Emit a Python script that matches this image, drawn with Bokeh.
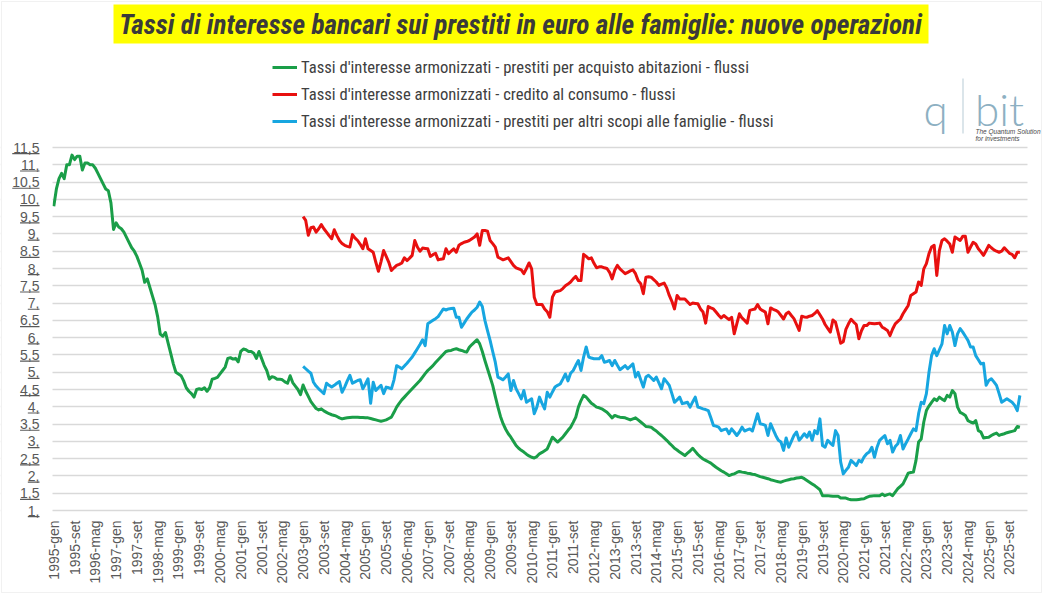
import math

from bokeh.embed import file_html
from bokeh.models import BoxAnnotation, FixedTicker, Label, Legend, LegendItem, Range1d
from bokeh.plotting import figure
from bokeh.resources import INLINE

# --- data -----------------------------------------------------------------
MONTHS = ["gen", "feb", "mar", "apr", "mag", "giu", "lug", "ago", "set", "ott", "nov", "dic"]
START_YEAR = 1995
LABEL_STEP = 8          # one category label every 8 months
CONS_OFFSET = 96        # consumer credit / other purposes series start in 2003-gen

# mortgage loans (house purchase), monthly from 1995-gen
abitazioni = [
    9.8, 10.3, 10.6, 10.75, 10.6, 11.0, 11.0, 11.28, 11.15, 11.25,
    11.25, 10.85, 11.05, 11.05, 11.0, 11.0, 10.9, 10.75, 10.6, 10.45,
    10.3, 10.25, 9.9, 9.13, 9.32, 9.2, 9.15, 9.05, 8.9, 8.75,
    8.6, 8.5, 8.35, 8.15, 7.95, 7.6, 7.7, 7.45, 7.2, 6.95,
    6.6, 6.1, 6.04, 6.15, 5.85, 5.55, 5.25, 5.0, 4.95, 4.9,
    4.75, 4.55, 4.45, 4.38, 4.28, 4.5, 4.52, 4.5, 4.55, 4.45,
    4.55, 4.8, 4.82, 4.85, 4.95, 5.05, 5.15, 5.4, 5.42, 5.38,
    5.4, 5.3, 5.6, 5.67, 5.65, 5.6, 5.6, 5.55, 5.4, 5.6,
    5.4, 5.2, 5.05, 4.8, 4.87, 4.85, 4.8, 4.8, 4.78, 4.72,
    4.68, 4.9, 4.7, 4.6, 4.5, 4.35, 4.63, 4.45, 4.3, 4.15,
    4.05, 3.95, 3.91, 3.94, 3.88, 3.84, 3.80, 3.77, 3.75, 3.72,
    3.68, 3.65, 3.67, 3.68, 3.69, 3.70, 3.70, 3.70, 3.69, 3.69,
    3.68, 3.68, 3.66, 3.64, 3.62, 3.60, 3.58, 3.60, 3.62, 3.66,
    3.70, 3.84, 3.99, 4.10, 4.20, 4.28, 4.36, 4.44, 4.52, 4.60,
    4.68, 4.76, 4.86, 4.96, 5.05, 5.12, 5.19, 5.28, 5.36, 5.44,
    5.52, 5.60, 5.62, 5.63, 5.66, 5.68, 5.65, 5.63, 5.60, 5.58,
    5.72, 5.80, 5.87, 5.94, 5.82, 5.60, 5.34, 5.10, 4.86, 4.62,
    4.30, 4.00, 3.72, 3.51, 3.35, 3.22, 3.12, 3.00, 2.88, 2.80,
    2.74, 2.69, 2.63, 2.58, 2.54, 2.52, 2.56, 2.64, 2.68, 2.73,
    2.78, 2.95, 3.12, 3.05, 2.98, 3.05, 3.12, 3.22, 3.32, 3.41,
    3.55, 3.70, 3.99, 4.18, 4.33, 4.28, 4.19, 4.10, 4.05, 3.99,
    3.97, 3.94, 3.89, 3.84, 3.76, 3.68, 3.75, 3.72, 3.70, 3.69,
    3.68, 3.65, 3.62, 3.65, 3.68, 3.62, 3.56, 3.50, 3.43, 3.42,
    3.41, 3.35, 3.30, 3.23, 3.17, 3.10, 3.03, 2.95, 2.88, 2.80,
    2.75, 2.69, 2.64, 2.59, 2.66, 2.72, 2.80, 2.71, 2.62, 2.55,
    2.49, 2.45, 2.41, 2.37, 2.31, 2.25, 2.20, 2.15, 2.11, 2.06,
    2.01, 2.04, 2.06, 2.10, 2.13, 2.11, 2.10, 2.08, 2.07, 2.05,
    2.04, 2.01, 1.98, 1.96, 1.94, 1.92, 1.89, 1.87, 1.85, 1.83,
    1.82, 1.85, 1.87, 1.89, 1.91, 1.92, 1.94, 1.95, 1.96, 1.92,
    1.87, 1.82, 1.77, 1.72, 1.66, 1.60, 1.43, 1.43, 1.43, 1.42,
    1.41, 1.41, 1.41, 1.36, 1.36, 1.36, 1.33, 1.31, 1.31, 1.31,
    1.32, 1.33, 1.34, 1.38, 1.41, 1.42, 1.43, 1.43, 1.43, 1.48,
    1.43, 1.46, 1.48, 1.43, 1.53, 1.63, 1.70, 1.77, 1.92, 2.08,
    2.10, 2.11, 2.45, 2.98, 3.07, 3.56, 3.89, 4.02, 4.13, 4.23,
    4.18, 4.28, 4.22, 4.18, 4.33, 4.28, 4.47, 4.38, 3.99, 3.84,
    3.80, 3.75, 3.60, 3.56, 3.53, 3.60, 3.31, 3.27, 3.10, 3.11,
    3.12, 3.17, 3.21, 3.24, 3.17, 3.20, 3.22, 3.25, 3.27, 3.29,
    3.31, 3.43, 3.41,
]

# consumer credit, monthly from 2003-gen
consumo = [
    9.50, 9.39, 8.96, 9.18,
    9.20, 9.05, 9.15, 9.27, 9.15, 9.05, 8.95, 8.86, 9.12, 8.95,
    8.81, 8.72, 8.67, 8.64, 8.62, 8.98, 8.88, 8.81, 8.70, 8.57,
    8.86, 8.57, 8.52, 8.47, 8.18, 7.92, 8.20, 8.52, 8.35, 8.18,
    7.94, 8.02, 8.09, 8.12, 8.16, 8.31, 8.23, 8.30, 8.38, 8.81,
    8.62, 8.50, 8.59, 8.58, 8.57, 8.35, 8.40, 8.44, 8.25, 8.27,
    8.28, 8.57, 8.43, 8.50, 8.57, 8.47, 8.67, 8.72, 8.76, 8.78,
    8.81, 8.86, 8.91, 9.00, 8.67, 9.10, 9.10, 9.08, 8.81, 8.72,
    8.62, 8.33, 8.29, 8.25, 8.28, 8.31, 8.20, 8.09, 8.02, 7.99,
    7.96, 7.85, 8.00, 8.16, 7.99, 7.17, 6.96, 6.96, 6.96, 6.83,
    6.75, 6.59, 7.17, 7.32, 7.34, 7.36, 7.42, 7.50, 7.55, 7.61,
    7.70, 7.77, 7.65, 7.65, 8.41, 8.35, 8.28, 8.31, 8.15, 8.02,
    8.05, 8.05, 8.02, 8.00, 7.89, 7.70, 7.95, 8.09, 7.99, 7.92,
    7.85, 7.89, 7.93, 7.96, 7.85, 7.65, 7.56, 7.27, 7.75, 7.76,
    7.75, 7.68, 7.61, 7.51, 7.55, 7.58, 7.44, 7.22, 7.05, 6.83,
    7.22, 7.12, 7.12, 7.12, 7.04, 6.96, 7.00, 6.99, 6.98, 6.83,
    6.74, 6.42, 6.90, 6.86, 6.83, 6.74, 6.65, 6.57, 6.64, 6.58,
    6.52, 6.59, 6.11, 6.40, 6.69, 6.57, 6.50, 6.42, 6.79, 6.81,
    6.83, 6.96, 6.83, 6.78, 6.74, 6.40, 6.86, 6.82, 6.79, 6.74,
    6.64, 6.54, 6.69, 6.74, 6.64, 6.55, 6.38, 6.21, 6.62, 6.60,
    6.59, 6.62, 6.64, 6.70, 6.78, 6.66, 6.54, 6.38, 6.27, 6.16,
    6.51, 6.45, 6.15, 5.84, 5.88, 6.24, 6.40, 6.53, 6.45, 6.38,
    5.97, 6.20, 6.35, 6.35, 6.42, 6.41, 6.40, 6.41, 6.42, 6.30,
    6.26, 6.21, 6.06, 6.25, 6.40, 6.47, 6.54, 6.69, 6.81, 6.93,
    7.22, 7.27, 7.32, 7.61, 7.51, 7.99, 8.14, 8.43, 8.62, 8.67,
    7.80, 8.52, 8.81, 8.86, 8.79, 8.71, 8.47, 8.91, 8.86, 8.81,
    8.93, 8.93, 8.47, 8.62, 8.76, 8.71, 8.57, 8.48, 8.38, 8.52,
    8.67, 8.60, 8.54, 8.50, 8.47, 8.50, 8.60, 8.52, 8.44, 8.41,
    8.31, 8.47, 8.47,
]

# loans for other purposes, monthly from 2003-gen
altri_scopi = [
    5.17, 5.10, 5.03, 4.97,
    4.71, 4.60, 4.52, 4.45, 4.38, 4.68, 4.62, 4.57, 4.62, 4.68,
    4.73, 4.42, 4.57, 4.75, 4.91, 4.68, 4.72, 4.76, 4.78, 4.52,
    4.66, 4.81, 4.10, 4.71, 4.47, 4.55, 4.62, 4.38, 4.57, 4.55,
    4.52, 4.78, 5.19, 5.15, 5.10, 5.18, 5.26, 5.35, 5.44, 5.56,
    5.68, 5.80, 5.94, 5.77, 6.40, 6.45, 6.50, 6.55, 6.61, 6.72,
    6.83, 6.80, 6.83, 6.84, 6.85, 6.59, 6.59, 6.30, 6.42, 6.54,
    6.64, 6.74, 6.80, 6.88, 7.03, 6.90, 6.50, 6.20, 5.92, 5.60,
    5.29, 4.86, 4.82, 4.78, 4.86, 4.95, 4.47, 4.76, 4.52, 4.38,
    4.23, 4.47, 4.13, 4.18, 4.23, 3.80, 3.99, 4.28, 4.10, 3.94,
    4.42, 4.28, 4.43, 4.57, 4.62, 4.66, 4.80, 4.95, 4.75, 4.97,
    5.05, 5.20, 5.34, 5.05, 5.44, 5.73, 5.44, 5.41, 5.39, 5.39,
    5.39, 5.48, 5.29, 5.31, 5.34, 5.19, 5.34, 5.20, 5.07, 5.13,
    5.19, 5.10, 5.17, 5.24, 4.86, 5.00, 4.78, 4.57, 4.86, 4.91,
    4.84, 4.76, 4.86, 4.69, 4.52, 4.81, 4.72, 4.62, 4.38, 4.13,
    4.20, 4.28, 4.09, 4.11, 4.13, 3.99, 4.14, 4.28, 3.99, 3.97,
    3.94, 3.92, 3.89, 3.68, 3.46, 3.44, 3.41, 3.31, 3.34, 3.36,
    3.22, 3.36, 3.27, 3.17, 3.27, 3.41, 3.30, 3.33, 3.36, 3.30,
    3.55, 3.80, 3.51, 3.49, 3.46, 3.17, 3.51, 3.34, 3.17, 3.03,
    2.98, 2.74, 3.10, 2.83, 3.00, 3.17, 3.27, 3.03, 3.12, 3.22,
    3.12, 3.27, 3.03, 3.31, 3.22, 3.65, 2.88, 2.83, 3.03, 2.95,
    2.88, 3.31, 3.17, 2.40, 2.06, 2.16, 2.25, 2.45, 2.38, 2.30,
    2.45, 2.40, 2.55, 2.64, 2.69, 2.83, 2.54, 2.83, 3.03, 3.10,
    3.17, 2.93, 3.03, 2.69, 2.85, 2.93, 3.17, 2.78, 2.93, 3.07,
    3.22, 3.36, 3.31, 3.80, 4.13, 4.09, 4.38, 5.00, 5.48, 5.68,
    5.48, 5.65, 5.82, 6.35, 6.11, 6.35, 6.16, 5.77, 6.11, 6.26,
    6.16, 6.04, 5.92, 5.73, 5.73, 5.48, 5.36, 5.24, 5.26, 4.62,
    4.76, 4.81, 4.72, 4.62, 4.38, 4.13, 4.18, 4.23, 4.18, 4.13,
    4.04, 3.89, 4.33,
]

y_ticks = [1.0, 1.5, 2.0, 2.5, 3.0, 3.5, 4.0, 4.5, 5.0, 5.5, 6.0, 6.5,
           7.0, 7.5, 8.0, 8.5, 9.0, 9.5, 10.0, 10.5, 11.0, 11.5]
y_tick_labels = ["1,", "1,5", "2,", "2,5", "3,", "3,5", "4,", "4,5", "5,", "5,5", "6,", "6,5",
                 "7,", "7,5", "8,", "8,5", "9,", "9,5", "10,", "10,5", "11,", "11,5"]

series_names = [
    "Tassi d'interesse armonizzati - prestiti per acquisto abitazioni - flussi",
    "Tassi d'interesse armonizzati - credito al consumo - flussi",
    "Tassi d'interesse armonizzati - prestiti per altri scopi alle famiglie - flussi",
]
series_colors = ["#1a9e48", "#e8100f", "#17a6e0"]
TITLE = "Tassi di interesse bancari sui prestiti in euro alle famiglie: nuove operazioni"

# --- layout ---------------------------------------------------------------
# The frame covers the whole canvas; the axes sit at fixed data locations so
# that the title, legend and logo can be placed inside the same frame.
W, H = 1043, 595
PL, PR, PT, PB = 52, 1027, 147, 510          # plotting area edges (px)
X_FIRST, PX_PER_MONTH = 53.3, 2.597          # first month position, month spacing
PX_PER_UNIT = (PB - PT) / 10.5               # vertical px per rate point


def dx(px):
    return (px - X_FIRST) / PX_PER_MONTH


def dy(py):
    return 1.0 + (PB - py) / PX_PER_UNIT


def month_label(i):
    return f"{START_YEAR + i // 12}-{MONTHS[i % 12]}"


p = figure(width=W, height=H, output_backend="svg", toolbar_location=None,
           x_range=Range1d(dx(0), dx(W)), y_range=Range1d(dy(H), dy(0)),
           min_border=0, background_fill_color="white", border_fill_color="white",
           outline_line_color=None)

AXIS_FONT = "Liberation Sans"
NARROW = "Roboto Condensed, DejaVu Sans Condensed, Liberation Sans"

# axes, pinned to the plotting-area edges
x_ticks = list(range(0, len(abitazioni), LABEL_STEP))
p.xaxis.fixed_location = y_ticks[0]
p.xaxis.ticker = FixedTicker(ticks=x_ticks)
p.xaxis.major_label_overrides = {t: month_label(t) for t in x_ticks}
p.xaxis.major_label_orientation = math.pi / 2
p.xaxis.major_tick_out = 0
p.xaxis.major_tick_in = 0
p.xaxis.major_label_standoff = 10
p.xaxis.major_label_text_font = AXIS_FONT
p.xaxis.major_label_text_font_size = "14px"
p.xaxis.major_label_text_color = "#595959"
p.xaxis.axis_line_color = None
p.xaxis.major_tick_line_color = None
p.xaxis.minor_tick_line_color = None

p.yaxis.fixed_location = dx(PL)
p.yaxis.ticker = FixedTicker(ticks=y_ticks)
p.yaxis.major_label_overrides = dict(zip(y_ticks, y_tick_labels))
p.yaxis.major_tick_out = 0
p.yaxis.major_tick_in = 0
p.yaxis.major_label_standoff = 13
p.yaxis.major_label_text_font = AXIS_FONT
p.yaxis.major_label_text_font_size = "14px"
p.yaxis.major_label_text_color = "#595959"
p.yaxis.axis_line_color = None
p.yaxis.major_tick_line_color = None
p.yaxis.minor_tick_line_color = None

p.xgrid.visible = False
p.ygrid.ticker = FixedTicker(ticks=y_ticks)
p.ygrid.grid_line_color = "#d9d9d9"
p.ygrid.grid_line_width = 1.5

# keep the horizontal grid inside the plotting area
for l, r in [(dx(0), dx(PL)), (dx(PR), dx(W))]:
    p.add_layout(BoxAnnotation(left=l, right=r, bottom=dy(PB + 4), top=dy(PT - 4),
                               fill_color="white", fill_alpha=1.0, line_color=None,
                               level="glyph"))

# underline beneath each y tick label
CHAR_W = {",": 0.278}
for t, lab in zip(y_ticks, y_tick_labels):
    w = sum(CHAR_W.get(c, 0.556) for c in lab) * 14
    p.add_layout(BoxAnnotation(left=dx(PL - 13 - w), right=dx(PL - 13),
                               top=t - 5.6 / PX_PER_UNIT, bottom=t - 6.8 / PX_PER_UNIT,
                               fill_color="#595959", fill_alpha=1.0, line_color=None))

# series
x_abit = list(range(len(abitazioni)))
x_cons = list(range(CONS_OFFSET, CONS_OFFSET + len(consumo)))
x_altri = list(range(CONS_OFFSET, CONS_OFFSET + len(altri_scopi)))
r1 = p.line(x_abit, abitazioni, line_color=series_colors[0], line_width=3, line_join="round")
r2 = p.line(x_cons, consumo, line_color=series_colors[1], line_width=3, line_join="round")
r3 = p.line(x_altri, altri_scopi, line_color=series_colors[2], line_width=3, line_join="round")

legend = Legend(items=[LegendItem(label=series_names[0], renderers=[r1]),
                       LegendItem(label=series_names[1], renderers=[r2]),
                       LegendItem(label=series_names[2], renderers=[r3])],
                location=(272, H - 131), orientation="vertical",
                label_text_font=NARROW, label_text_font_size="16.6px",
                label_text_color="#404040", glyph_width=25, glyph_height=20,
                label_height=20, spacing=7, padding=0, margin=0, label_standoff=4,
                border_line_color=None, background_fill_alpha=0)
p.add_layout(legend)

# title banner
p.add_layout(BoxAnnotation(left=dx(113), right=dx(928), top=dy(4), bottom=dy(43),
                           fill_color="#ffff00", fill_alpha=1.0, line_color=None))
p.add_layout(Label(x=dx(520), y=dy(24), text=TITLE, text_align="center",
                   text_baseline="middle", text_font=NARROW, text_font_size="27.3px",
                   text_font_style="bold italic", text_color="#3a3a3a"))

# logo
LOGO = "#8db0c2"
p.add_layout(Label(x=dx(935), y=dy(108), text="q", text_align="center",
                   text_baseline="alphabetic", text_font="Lato Light",
                   text_font_size="44px", text_color=LOGO))
p.add_layout(BoxAnnotation(left=dx(962), right=dx(963), top=dy(78), bottom=dy(133),
                           fill_color="#b8ccd6", fill_alpha=1.0, line_color=None))
p.add_layout(Label(x=dx(999), y=dy(108), text="bit", text_align="center",
                   text_baseline="alphabetic", text_font="Lato Light",
                   text_font_size="44px", text_color=LOGO))
p.add_layout(Label(x=dx(975), y=dy(131), text="The Quantum Solution", text_align="left",
                   text_baseline="alphabetic", text_font=AXIS_FONT,
                   text_font_size="6.5px", text_font_style="italic", text_color="#4a4a4a"))
p.add_layout(Label(x=dx(975), y=dy(138), text="for investments", text_align="left",
                   text_baseline="alphabetic", text_font=AXIS_FONT,
                   text_font_size="6.5px", text_font_style="italic", text_color="#4a4a4a"))

# chart border
p.add_layout(BoxAnnotation(left=dx(1), right=dx(1041), top=dy(1), bottom=dy(592),
                           fill_alpha=0.0, line_color="#d0d0d0", line_width=1))

open("out.html", "w").write(file_html(p, INLINE))
